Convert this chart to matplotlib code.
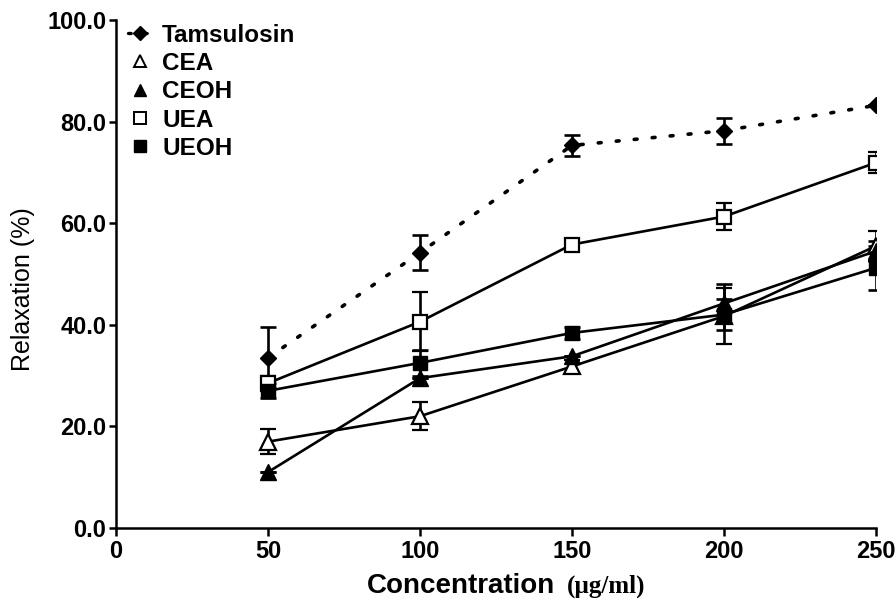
import matplotlib
matplotlib.use("Agg")
import matplotlib.pyplot as plt
from matplotlib.lines import Line2D

conc = [50, 100, 150, 200, 250]

tamsulosin = [33.5, 54.2, 75.3, 78.2, 83.2]
tamsulosin_err = [6.0, 3.4, 2.0, 2.6, 0.0]
cea = [17.0, 22.0, 31.8, 41.7, 55.5]
cea_err = [2.5, 2.8, 1.2, 5.5, 2.9]
ceoh = [11.0, 29.5, 33.8, 44.2, 54.5]
ceoh_err = [0.0, 0.0, 0.0, 3.8, 2.0]
uea = [28.5, 40.6, 55.8, 61.3, 71.9]
uea_err = [1.5, 5.8, 0.5, 2.7, 2.1]
ueoh = [27.0, 32.5, 38.4, 42.0, 51.2]
ueoh_err = [1.5, 2.5, 1.2, 3.0, 4.4]

series_names = ["Tamsulosin", "CEA", "CEOH", "UEA", "UEOH"]

plt.rcParams['font.family'] = ['Liberation Sans', 'DejaVu Sans']

fig = plt.figure(figsize=(8.96, 6.0), dpi=100)
ax = fig.add_axes([0.1295, 0.12, 0.848, 0.8467])

lw = 1.9
common = dict(color='black', elinewidth=lw, capsize=5.5, capthick=lw, linewidth=lw)

specs = [
    (tamsulosin, tamsulosin_err, dict(marker='D', markersize=8, markerfacecolor='black', linestyle=(0, (0.8, 4.2)), dash_capstyle='round')),
    (cea, cea_err, dict(marker='^', markersize=11, markerfacecolor='white', markeredgewidth=1.6, linestyle='-')),
    (ceoh, ceoh_err, dict(marker='^', markersize=11, markerfacecolor='black', linestyle='-')),
    (uea, uea_err, dict(marker='s', markersize=10.5, markerfacecolor='white', markeredgewidth=1.6, linestyle='-')),
    (ueoh, ueoh_err, dict(marker='s', markersize=10.5, markerfacecolor='black', linestyle='-')),
]

for (vals, errs, st) in specs:
    ls = st.pop('linestyle')
    extra = {}
    if 'dash_capstyle' in st:
        extra['dash_capstyle'] = st.pop('dash_capstyle')
    eb = ax.errorbar(conc, vals, yerr=errs, linestyle=ls, markeredgecolor='black', zorder=3, **st, **common)
    for k, v in extra.items():
        eb[0].set_dash_capstyle(v)
        eb[0].set_linewidth(2.6)

ax.set_xlim(0, 250)
ax.set_ylim(0, 100)
ax.set_xticks([0, 50, 100, 150, 200, 250])
ax.set_yticks([0, 20, 40, 60, 80, 100])
ax.set_yticklabels([f"{v:.1f}" for v in [0, 20, 40, 60, 80, 100]])
ax.spines['top'].set_visible(False)
ax.spines['right'].set_visible(False)
ax.spines['left'].set_linewidth(1.8)
ax.spines['bottom'].set_linewidth(1.8)
ax.tick_params(axis='both', width=1.8, length=5, labelsize=17, pad=2)
ax.tick_params(axis='x', length=6, pad=3)
for lab in ax.get_xticklabels() + ax.get_yticklabels():
    lab.set_fontweight('bold')

ax.set_ylabel("Relaxation (%)", fontsize=18)
ax.yaxis.set_label_coords(-0.106, 0.47)

fig.text(0.62, 0.012, "Concentration", fontsize=20, fontweight='bold', ha='right', va='baseline')
fig.text(0.633, 0.012, "(µg/ml)", fontsize=18, fontweight='bold', ha='left', va='baseline',
         family=['Liberation Serif', 'DejaVu Serif'])

handles = [
    Line2D([], [], color='black', marker='D', markersize=7, linestyle=(0, (0.8, 4.0)), linewidth=2.4, dash_capstyle='round'),
    Line2D([], [], color='black', marker='^', markersize=9, markerfacecolor='white', markeredgewidth=1.4, linestyle='none'),
    Line2D([], [], color='black', marker='^', markersize=9, markerfacecolor='black', linestyle='none'),
    Line2D([], [], color='black', marker='s', markersize=9, markerfacecolor='white', markeredgewidth=1.4, linestyle='none'),
    Line2D([], [], color='black', marker='s', markersize=9, markerfacecolor='black', linestyle='none'),
]
leg = ax.legend(handles, series_names, loc='upper left', bbox_to_anchor=(0.003, 1.012), frameon=False,
                handlelength=1.0, handletextpad=0.4, labelspacing=0.22, numpoints=1, borderaxespad=0,
                prop={'weight': 'bold', 'size': 17.5})

fig.savefig("out.png", dpi=100)
